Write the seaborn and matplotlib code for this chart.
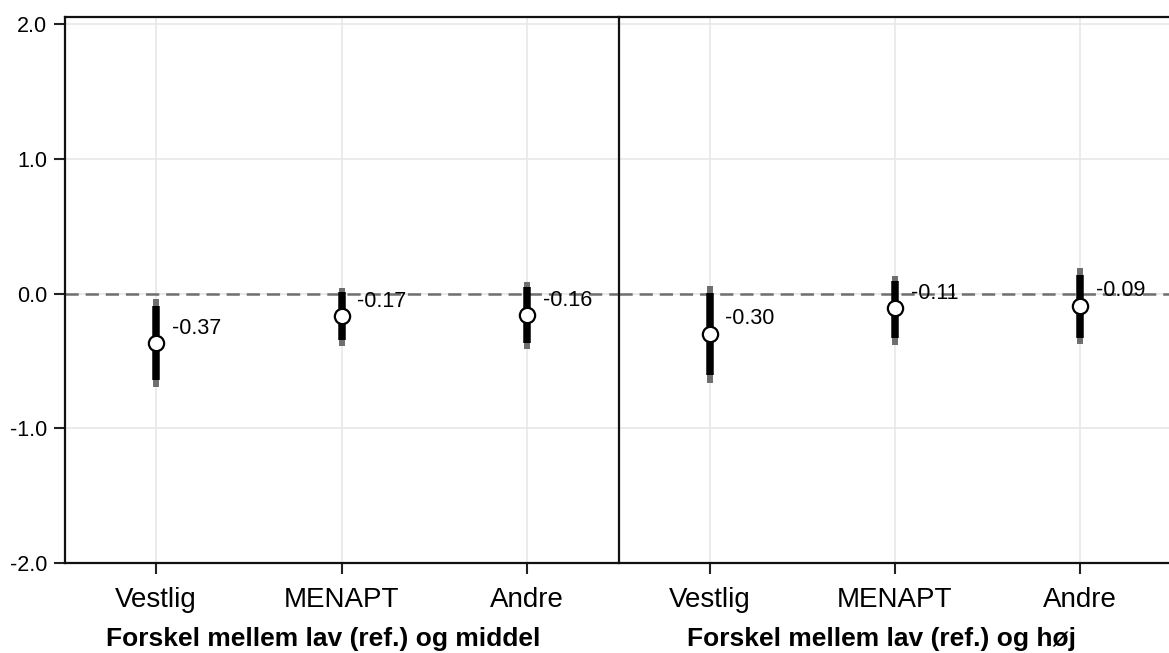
import matplotlib
matplotlib.use("Agg")
import matplotlib.pyplot as plt
import seaborn as sns
import pandas as pd

# Group estimates with inner (thick black) and outer (grey) confidence bounds
categories = ["Vestlig", "MENAPT", "Andre"]

est_middel = [-0.37, -0.17, -0.16]
inner_lo_middel = [-0.640, -0.345, -0.365]
inner_hi_middel = [-0.093, 0.013, 0.050]
outer_lo_middel = [-0.696, -0.390, -0.412]
outer_hi_middel = [-0.043, 0.039, 0.088]

est_hoj = [-0.30, -0.11, -0.09]
inner_lo_hoj = [-0.605, -0.330, -0.332]
inner_hi_hoj = [0.001, 0.090, 0.137]
outer_lo_hoj = [-0.662, -0.380, -0.377]
outer_hi_hoj = [0.056, 0.130, 0.187]

panel_titles = ["Forskel mellem lav (ref.) og middel",
                "Forskel mellem lav (ref.) og høj"]
y_ticks = [-2.0, -1.0, 0.0, 1.0, 2.0]

sns.set_theme(style="white")
plt.rcParams["font.family"] = ["Liberation Sans", "DejaVu Sans"]
plt.rcParams["axes.unicode_minus"] = False
plt.rcParams["lines.scale_dashes"] = False
plt.rcParams["text.color"] = "black"
plt.rcParams["axes.labelcolor"] = "black"
plt.rcParams["xtick.color"] = "black"
plt.rcParams["ytick.color"] = "black"

W, H = 1169, 653
fig = plt.figure(figsize=(W / 100, H / 100), dpi=100)

top_px, bottom_px = 17, 563
ax_l = fig.add_axes([65 / W, 1 - bottom_px / H, (618 - 65) / W, (bottom_px - top_px) / H])
ax_r = fig.add_axes([619 / W, 1 - bottom_px / H, (1171 - 619) / W, (bottom_px - top_px) / H])

panels = [
    (ax_l, est_middel, inner_lo_middel, inner_hi_middel, outer_lo_middel, outer_hi_middel, panel_titles[0], 0.467),
    (ax_r, est_hoj, inner_lo_hoj, inner_hi_hoj, outer_lo_hoj, outer_hi_hoj, panel_titles[1], 0.476),
]

grid_c = "#e6e6e6"
for i, (ax, est, ilo, ihi, olo, ohi, title, tx) in enumerate(panels):
    df = pd.DataFrame({"gruppe": categories, "estimat": est})

    # grid
    for yt in y_ticks:
        ax.axhline(yt, color=grid_c, lw=1.1, zorder=0)
    for xi in range(len(categories)):
        ax.axvline(xi, color=grid_c, lw=1.1, zorder=0)

    # zero reference line
    ax.axhline(0, color="#6f6f6f", lw=1.8, linestyle=(0, (9.5, 5.0)), zorder=1)

    xs = list(range(len(categories)))
    ax.vlines(xs, olo, ohi, color="#6e6e6e", lw=4.3, zorder=2, capstyle="butt")
    ax.vlines(xs, ilo, ihi, color="black", lw=5.4, zorder=3, capstyle="butt")

    sns.stripplot(data=df, x="gruppe", y="estimat", order=categories, jitter=False,
                  size=11, color="white", edgecolor="black", linewidth=1.6,
                  ax=ax, zorder=4)

    for xi, v in zip(xs, est):
        ax.annotate(f"{v:.2f}", xy=(xi, v), xytext=(11.3, 10.8),
                    textcoords="offset points", ha="left", va="center",
                    fontsize=15.5, color="black", zorder=5)

    ax.set_xlim(-0.49, 2.49)
    ax.set_ylim(-2.0, 2.052)
    ax.set_yticks(y_ticks)
    ax.set_xlabel(title, fontsize=19, fontweight="bold", labelpad=10.5, color="black")
    ax.xaxis.label.set_x(tx)
    ax.set_ylabel("")
    ax.tick_params(axis="x", direction="out", length=8, width=1.5, color="#222222",
                   labelsize=20, pad=9, bottom=True, labelcolor="black")
    for sp in ax.spines.values():
        sp.set_color("#111111")
        sp.set_linewidth(1.6)
    if i == 0:
        ax.set_yticklabels([f"{t:.1f}" for t in y_ticks])
        ax.tick_params(axis="y", direction="out", length=8, width=1.5, color="#222222",
                       labelsize=15.5, pad=5, left=True, labelcolor="black")
        ax.spines["right"].set_visible(False)
    else:
        ax.set_yticklabels([])
        ax.tick_params(axis="y", left=False, length=0)

fig.savefig("out.png", dpi=100)
